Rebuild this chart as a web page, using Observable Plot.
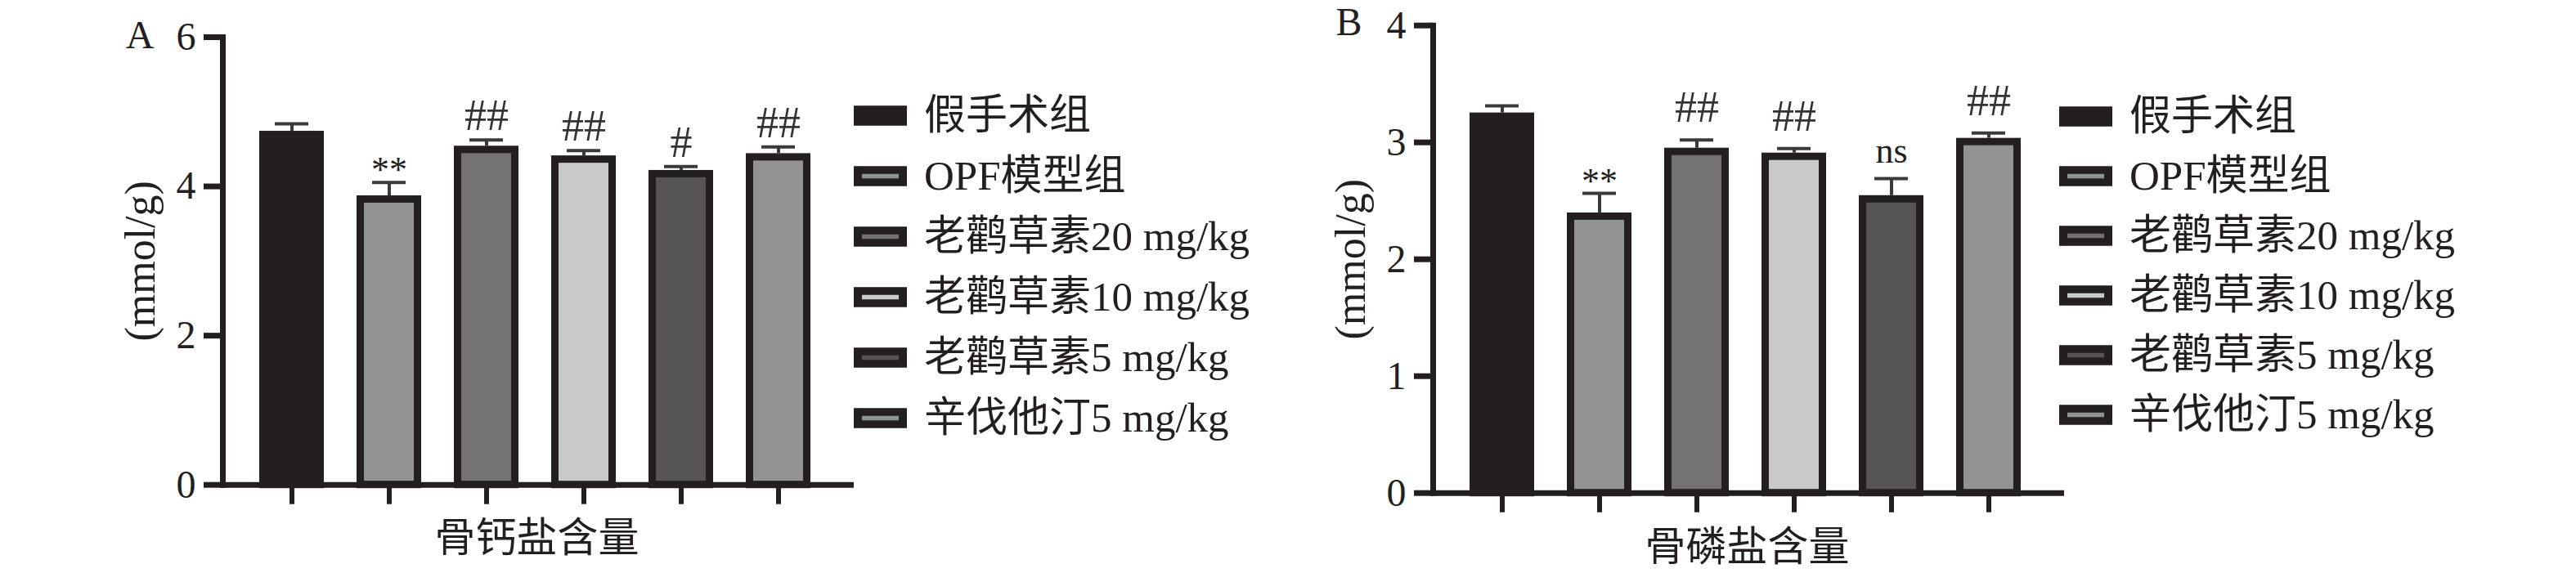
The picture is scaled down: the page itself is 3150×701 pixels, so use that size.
<!DOCTYPE html>
<html>
<head>
<meta charset="utf-8">
<script src="https://cdn.jsdelivr.net/npm/d3@7"></script>
<script src="https://cdn.jsdelivr.net/npm/@observablehq/plot@0.6"></script>
<style>
  html, body { margin: 0; padding: 0; background: #ffffff; }
  #fig { position: relative; width: 3150px; height: 701px; background: #ffffff; overflow: hidden; }
  #fig > div { position: absolute; top: 0; height: 701px; }
  #fig svg { max-width: none !important; display: block; }
</style>
</head>
<body>
<div id="fig">
  <div id="chartA" style="left:0px; width:1044px"></div>
  <div id="legendA" style="left:1044px; width:560px"></div>
  <div id="chartB" style="left:1480px; width:1044px"></div>
  <div id="legendB" style="left:2518px; width:560px"></div>
</div>
<script>
// ---- data ----
const groups = ["假手术组", "OPF模型组", "老鹳草素20 mg/kg", "老鹳草素10 mg/kg", "老鹳草素5 mg/kg", "辛伐他汀5 mg/kg"];
const fillColors = ["#231f20", "#929292", "#737172", "#c9c9c9", "#565554", "#929292"];

// Panel A: bone calcium content (mmol/g)
const caMean  = [4.74, 3.875, 4.54, 4.41, 4.215, 4.44];
const caUpper = [4.84, 4.054, 4.623, 4.481, 4.266, 4.529];
const caMarks = ["", "**", "##", "##", "#", "##"];
const caTicks = [0, 2, 4, 6];

// Panel B: bone phosphate content (mmol/g)
const pMean  = [3.252, 2.397, 2.951, 2.909, 2.545, 3.035];
const pUpper = [3.313, 2.564, 3.021, 2.947, 2.690, 3.080];
const pMarks = ["", "**", "##", "##", "ns", "##"];
const pTicks = [0, 1, 2, 3, 4];

const yTitle = "(mmol/g)";
const xTitleA = "骨钙盐含量";
const xTitleB = "骨磷盐含量";

// ---- styling ----
const INK = "#231f20";
const ERR = "#3a3a3a";
const FONT = "'Liberation Serif', 'Times New Roman', 'Noto Sans CJK SC', serif";

function panel(opts) {
  const data = groups.map((g, i) => ({
    group: g, value: opts.mean[i], upper: opts.upper[i], mark: opts.marks[i], fill: fillColors[i]
  }));
  const hashes = data.filter(d => d.mark.startsWith("#"));
  const stars = data.filter(d => d.mark.startsWith("*"));
  const ns = data.filter(d => d.mark === "ns");
  return Plot.plot({
    width: 1044,
    height: 701,
    marginLeft: 272,
    marginRight: 4,
    marginTop: opts.marginTop,
    marginBottom: opts.marginBottom,
    style: { fontFamily: FONT, fontSize: "48px", color: INK, background: "transparent", overflow: "visible", maxWidth: "none" },
    x: { type: "band", domain: groups, paddingInner: 0.333, paddingOuter: 0.3667, align: 0.48 },
    y: { domain: [0, opts.ticks[opts.ticks.length - 1]] },
    color: { type: "identity" },
    marks: [
      Plot.barY(data, { x: "group", y: "value", fill: d => d.fill, stroke: INK, strokeWidth: 9,
        insetLeft: 4.5, insetRight: 4.5, insetTop: 4.5 }),
      Plot.ruleX(data, { x: "group", y1: "value", y2: "upper", stroke: ERR, strokeWidth: 4 }),
      Plot.tickY(data, { x: "group", y: "upper", stroke: ERR, strokeWidth: 4, insetLeft: 19, insetRight: 19 }),
      Plot.frame({ anchor: "left", stroke: INK, strokeWidth: 7, strokeLinecap: "square" }),
      Plot.frame({ anchor: "bottom", stroke: INK, strokeWidth: 7 }),
      Plot.axisY({ ticks: opts.ticks, tickFormat: d3.format("d"), tickSize: 23, tickPadding: 10,
        stroke: INK, strokeWidth: 7, fill: INK, label: null, fontSize: 48 }),
      Plot.axisX({ tickSize: 24, stroke: INK, strokeWidth: 6, tickFormat: () => "", label: null }),
      Plot.text(hashes, { x: "group", y: "upper", text: "mark", dy: opts.hashDy, fontSize: 54,
        fill: "#333333", textAnchor: "middle", lineAnchor: "middle" }),
      Plot.text(stars, { x: "group", y: "upper", text: "mark", dy: -15, fontSize: 44, fill: INK,
        textAnchor: "middle", lineAnchor: "middle" }),
      Plot.text(ns, { x: "group", y: "upper", text: "mark", dy: -34, fontSize: 44, fill: INK,
        textAnchor: "middle", lineAnchor: "middle" }),
      Plot.text([yTitle], { frameAnchor: "left", rotate: -90, dx: -100.5, fontSize: 52, fill: INK,
        textAnchor: "middle", lineAnchor: "middle" }),
      Plot.text([opts.xTitle], { frameAnchor: "bottom", dy: opts.xTitleDy, fontSize: 50, fill: INK,
        textAnchor: "middle", lineAnchor: "middle" }),
      Plot.text([opts.letter], { frameAnchor: "top-left", dx: opts.letterDx, dy: opts.letterDy, fontSize: 48,
        fill: INK, textAnchor: "middle", lineAnchor: "middle" })
    ]
  });
}

function legend(lastRow) {
  return Plot.plot({
    width: 560,
    height: 701,
    margin: 0,
    style: { fontFamily: FONT, fontSize: "51px", color: INK, background: "transparent", overflow: "visible", maxWidth: "none" },
    x: { type: "band", domain: ["swatch"], range: [0, 65], padding: 0, axis: null },
    y: { type: "point", domain: groups, range: [140.5, lastRow], padding: 0, axis: null },
    color: { type: "identity" },
    marks: [
      Plot.tickY(groups, { x: () => "swatch", y: d => d, stroke: INK, strokeWidth: 24.5 }),
      Plot.tickY(groups, { x: () => "swatch", y: d => d, stroke: (d, i) => fillColors[i], strokeWidth: 5.5,
        insetLeft: 10, insetRight: 10 }),
      Plot.text(groups, { x: () => "swatch", y: d => d, text: d => d, textAnchor: "start",
        lineAnchor: "middle", dx: 53, fontSize: 51, fill: INK })
    ]
  });
}

document.getElementById("chartA").append(panel({
  mean: caMean, upper: caUpper, marks: caMarks, ticks: caTicks,
  marginTop: 45, marginBottom: 108.3, xTitle: xTitleA, xTitleDy: 66,
  letter: "A", letterDx: -101.5, letterDy: -2, hashDy: -29.5
}));
document.getElementById("chartB").append(panel({
  mean: pMean, upper: pUpper, marks: pMarks, ticks: pTicks,
  marginTop: 30.7, marginBottom: 98.3, xTitle: xTitleB, xTitleDy: 67,
  letter: "B", letterDx: -103, letterDy: -4, hashDy: -39
}));
document.getElementById("legendA").append(legend(512));
document.getElementById("legendB").append(legend(508));
</script>
</body>
</html>
